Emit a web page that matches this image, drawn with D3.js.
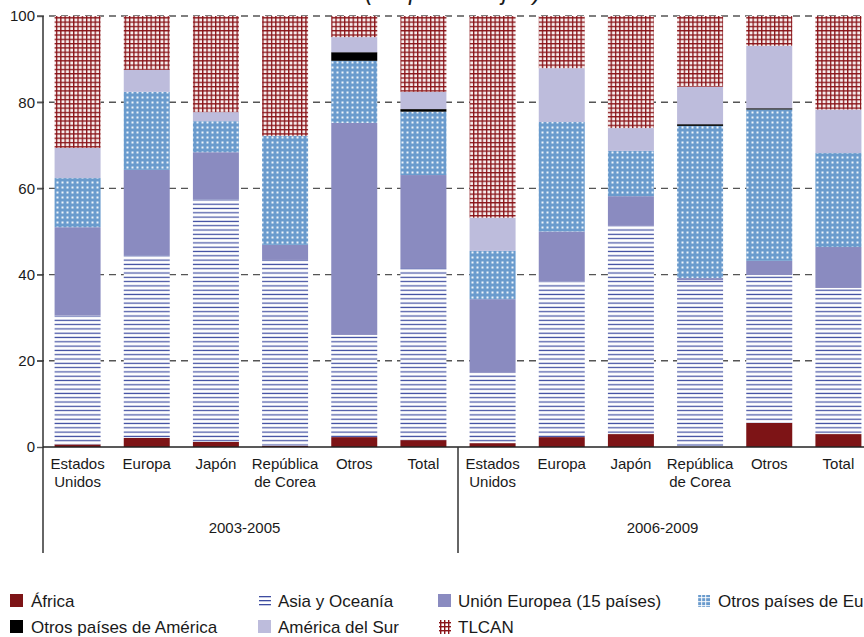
<!DOCTYPE html>
<html><head><meta charset="utf-8">
<script src="https://cdn.jsdelivr.net/npm/d3@7"></script>
<style>body{margin:0;background:#fff}svg{display:block}text{font-family:"Liberation Sans",Arial,sans-serif;fill:#1a1a1a}</style>
</head><body><svg id="c" width="864" height="637"></svg>
<script>
const groups = ["2003-2005","2006-2009"];
const countries = ["Estados Unidos","Europa","Japón","República de Corea","Otros","Total"];
const countryLines = [["Estados","Unidos"],["Europa"],["Japón"],["República","de Corea"],["Otros"],["Total"]];
const seriesNames = ["África","Asia y Oceanía","Unión Europea (15 países)","Otros países de Europa","Otros países de América","América del Sur","TLCAN"];
const africa = [0.6,2.1,1.2,0.3,2.3,1.6, 0.9,2.3,3.0,0.0,5.6,3.0];
const asia   = [29.9,42.4,56.3,43.1,23.7,39.9, 16.3,36.1,48.3,38.7,34.3,33.9];
const ue     = [20.5,19.8,10.9,3.5,49.2,21.6, 17.1,11.6,6.9,0.5,3.3,9.5];
const oeur   = [11.4,18.1,7.2,25.3,14.4,14.7, 11.2,25.4,10.5,35.3,35.1,21.8];
const oam    = [0,0,0,0,2.0,0.6, 0,0,0,0.4,0.3,0];
const amsur  = [7.0,5.1,2.1,0,3.5,4.0, 7.7,12.5,5.3,8.7,14.5,10.1];
const tlcan  = [30.6,12.5,22.3,27.8,4.9,17.6, 46.8,12.1,26.0,16.4,6.9,21.7];
const yTicks = [0,20,40,60,80,100];

const svg = d3.select("#c");
const defs = svg.append("defs");
const pA = defs.append("pattern").attr("id","pAsia").attr("patternUnits","userSpaceOnUse").attr("width",10).attr("height",4.3);
pA.append("rect").attr("width",10).attr("height",4.3).attr("fill","#fff");
pA.append("rect").attr("y",1.5).attr("width",10).attr("height",1.2).attr("fill","#3e4ca0");
const pE = defs.append("pattern").attr("id","pOEur").attr("patternUnits","userSpaceOnUse").attr("width",5).attr("height",5);
pE.append("rect").attr("width",5).attr("height",5).attr("fill","#6a9bcd");
pE.append("rect").attr("x",1.5).attr("y",1.5).attr("width",2).attr("height",2).attr("fill","#fff").attr("opacity",0.9);
const pT = defs.append("pattern").attr("id","pTlcan").attr("patternUnits","userSpaceOnUse").attr("width",4.3).attr("height",4.3);
pT.append("rect").attr("width",4.3).attr("height",4.3).attr("fill","#f6eeee");
pT.append("rect").attr("x",0).attr("width",1.3).attr("height",4.3).attr("fill","#8a1318");
pT.append("rect").attr("y",0).attr("width",4.3).attr("height",1.3).attr("fill","#8a1318");

const fills = ["#7d1416","url(#pAsia)","#8a8bc0","url(#pOEur)","#000000","#bdbcdc","url(#pTlcan)"];
const keys = ["africa","asia","ue","oeur","oam","amsur","tlcan"];
const arrays = [africa,asia,ue,oeur,oam,amsur,tlcan];

const data = [];
groups.forEach((g,gi)=>countries.forEach((c,ci)=>{
  const i = gi*countries.length+ci;
  const row = {id:g+"|"+c, g, c, ci};
  keys.forEach((k,ki)=>row[k]=arrays[ki][i]);
  data.push(row);
}));

const x = d3.scaleBand().domain(data.map(d=>d.id)).range([43,873]).paddingInner(0.335).paddingOuter(0.1675);
const y = d3.scaleLinear().domain([0,100]).range([447,16]);

svg.append("g").selectAll("line").data(yTicks.filter(t=>t>0)).join("line")
  .attr("x1",37).attr("x2",864).attr("y1",d=>y(d)).attr("y2",d=>y(d))
  .attr("stroke","#555").attr("stroke-width",1.4).attr("stroke-dasharray","7,5");

const stack = d3.stack().keys(keys)(data);
svg.append("g").selectAll("g").data(stack).join("g")
  .attr("fill",(d,i)=>fills[i])
  .selectAll("rect").data(d=>d).join("rect")
  .attr("x",d=>x(d.data.id)).attr("width",x.bandwidth())
  .attr("y",d=>y(d[1])).attr("height",d=>Math.max(0,y(d[0])-y(d[1])));

const yAxis = d3.axisLeft(y).tickValues(yTicks).tickSize(6).tickPadding(2);
const ga = svg.append("g").attr("transform","translate(43,0)").call(yAxis);
ga.select(".domain").remove();
ga.selectAll(".tick line").attr("stroke","#555").attr("stroke-width",1.4);
ga.selectAll(".tick text").attr("font-size",15).attr("fill","#1a1a1a").attr("font-family","Liberation Sans, Arial, sans-serif");

svg.append("line").attr("x1",43).attr("x2",43).attr("y1",16).attr("y2",553).attr("stroke","#333").attr("stroke-width",1.5);
svg.append("line").attr("x1",43).attr("x2",864).attr("y1",447).attr("y2",447).attr("stroke","#222").attr("stroke-width",1.6);
const sepX = (x(data[5].id)+x.bandwidth()+x(data[6].id))/2;
svg.append("line").attr("x1",sepX).attr("x2",sepX).attr("y1",447).attr("y2",553).attr("stroke","#333").attr("stroke-width",1.5);

const cl = svg.append("g").selectAll("text").data(data).join("text")
  .attr("x",d=>x(d.id)+x.bandwidth()/2).attr("y",469).attr("text-anchor","middle").attr("font-size",15);
cl.selectAll("tspan").data(d=>countryLines[d.ci]).join("tspan")
  .attr("x",function(){return this.parentNode.getAttribute("x");}).attr("dy",(d,i)=>i?18:0).text(d=>d);

groups.forEach((g,gi)=>{
  const ids = data.filter(d=>d.g===g).map(d=>d.id);
  const cx = (x(ids[0]) + x(ids[ids.length-1])+x.bandwidth())/2 - (gi===0?6:3);
  svg.append("text").attr("x",cx).attr("y",533).attr("text-anchor","middle").attr("font-size",15).text(g);
});

svg.append("text").attr("x",453).attr("y",0).attr("text-anchor","middle")
  .attr("font-family","Liberation Serif, Times New Roman, serif").attr("font-style","italic").attr("font-size",24).text("(En porcentajes)");

const legPos = [[10,601],[258,601],[438,601],[697,601],[10,627],[258,627],[438,627]];
const leg = svg.append("g");
seriesNames.forEach((n,i)=>{
  const [lx,ly] = legPos[i];
  const g = leg.append("g").attr("transform",`translate(${lx},${ly})`);
  if(i===1){
    [-5,-1,3].forEach(yy=>g.append("rect").attr("x",1).attr("y",yy).attr("width",12).attr("height",1.3).attr("fill","#3e4ca0"));
  } else if(i===3){
    g.append("rect").attr("x",1).attr("y",-6).attr("width",12).attr("height",12).attr("fill","#6a9bcd");
    [-3,1,5].forEach(v=>{g.append("rect").attr("x",1+v+2).attr("y",-6).attr("width",1.2).attr("height",12).attr("fill","#fff").attr("opacity",0.8);
      g.append("rect").attr("x",1).attr("y",v-1).attr("width",12).attr("height",1.2).attr("fill","#fff").attr("opacity",0.8);});
  } else if(i===6){
    [2,6,10].forEach(v=>{g.append("rect").attr("x",v).attr("y",-7).attr("width",1.4).attr("height",14).attr("fill","#8a1318");
      g.append("rect").attr("x",1).attr("y",v-7).attr("width",12).attr("height",1.4).attr("fill","#8a1318");});
  } else {
    g.append("rect").attr("x",0).attr("y",-7).attr("width",13).attr("height",13).attr("fill",fills[i]);
  }
  g.append("text").attr("x",i===0||i===4?21:(i===3?21:20)).attr("y",6).attr("font-size",17).text(n);
});
</script></body></html>
